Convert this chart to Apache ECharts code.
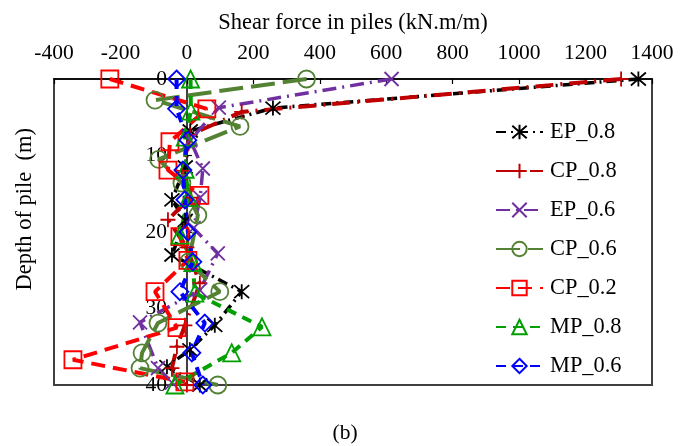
<!DOCTYPE html>
<html>
<head>
<meta charset="utf-8">
<script src="https://cdn.jsdelivr.net/npm/echarts@6/dist/echarts.min.js"></script>
<style>html,body{margin:0;padding:0;background:#fff;}#c{width:690px;height:446px;}</style>
</head>
<body>
<div id="c"></div>
<script>
// ---- data ----
const xTicks = [-400, -200, 0, 200, 400, 600, 800, 1000, 1200, 1400];
const yTicks = [0, 10, 20, 30, 40];
const seriesNames = ['EP_0.8', 'CP_0.8', 'EP_0.6', 'CP_0.6', 'CP_0.2', 'MP_0.8', 'MP_0.6'];

const ep08Depth = [0, 3.8, 6.8, 11.5, 15.8, 18.5, 23, 27.8, 32.2, 35.4, 37.6, 40];
const ep08Shear = [1359, 259, 10, -5, -45, -5, -45, 165, 84, 9, -60, 39];

const cp08Depth = [0, 4.3, 7.3, 12, 15.5, 18.4, 22, 26.7, 32.2, 35, 37.8, 40];
const cp08Shear = [1307, 165, 10, -15, 10, -57, 0, 39, -6, -30, -45, 0];

const ep06Depth = [0, 3.75, 8, 11.7, 15.5, 19.5, 22.8, 27.6, 31.8, 37.8, 39.7];
const ep06Shear = [616, 96, 10, 48, 40, 20, 93, 39, -141, -87, -45];

const cp06Depth = [0, 2.75, 6.2, 10.5, 13.6, 17.8, 23.9, 27.8, 31.9, 35.8, 37.8, 40];
const cp06Shear = [360, -96, 160, -85, -15, 33, 5, 99, -87, -135, -141, 93];

const cp02Depth = [0, 3.9, 8.2, 11.9, 15.2, 20.6, 23.7, 27.8, 32.5, 36.7, 39.6];
const cp02Shear = [-232, 60, -51, -57, 39, -21, 3, -96, -30, -343, -6];

const mp08Depth = [0, 4.2, 7.6, 11.8, 15.5, 20.4, 24, 28, 32.4, 35.8, 40];
const mp08Shear = [11, 12, -5, -5, 5, -21, 18, 24, 226, 135, -36];

const mp06Depth = [0, 3.9, 8, 11.9, 15.8, 20, 23.9, 27.8, 31.9, 35.8, 40];
const mp06Shear = [-31, -31, 3, -12, -6, 3, 18, -21, 54, 15, 48];

// ---- styles ----
const FONT = 'Liberation Serif';
const asterisk = 'path://M5,0L5,10M0.67,0.67L9.33,9.33M0.67,9.33L9.33,0.67';
const plus = 'path://M5,0L5,10M0,5L10,5';
const cross = 'path://M0,0L10,10M0,10L10,0';

const GRID_LEFT = 54, GRID_W = 598;
const xMin = xTicks[0], xMax = xTicks[xTicks.length - 1];
// y axis drawn at x = 0 (shift the left axis inward)
const yAxisOffset = -GRID_W * (0 - xMin) / (xMax - xMin);

function pairs(d, v) { return d.map((dep, i) => [v[i], dep]); }

const defs = [
  {name: seriesNames[0], data: pairs(ep08Depth, ep08Shear), color: '#000000', symbol: asterisk, size: 15, dash: [10, 5, 2, 5], w: 3.5},
  {name: seriesNames[1], data: pairs(cp08Depth, cp08Shear), color: '#C00000', symbol: plus, size: 15, dash: [18, 7, 2, 7], w: 4},
  {name: seriesNames[2], data: pairs(ep06Depth, ep06Shear), color: '#7030A0', symbol: cross, size: 14, dash: [14, 6, 2, 6], w: 3.5},
  {name: seriesNames[3], data: pairs(cp06Depth, cp06Shear), color: '#548235', symbol: 'circle', size: 17, dash: [24, 8], w: 4},
  {name: seriesNames[4], data: pairs(cp02Depth, cp02Shear), color: '#FF0000', symbol: 'rect', size: 17, dash: [14, 8], w: 4},
  {name: seriesNames[5], data: pairs(mp08Depth, mp08Shear), color: '#00A000', symbol: 'triangle', size: 17, dash: [10, 7], w: 4},
  {name: seriesNames[6], data: pairs(mp06Depth, mp06Shear), color: '#0000FF', symbol: 'diamond', size: 17, dash: [10, 7], w: 4}
];

const series = defs.map(s => ({
  name: s.name,
  type: 'line',
  data: s.data,
  symbol: s.symbol,
  symbolSize: s.size,
  showSymbol: true,
  smooth: false,
  clip: false,
  lineStyle: {color: s.color, width: s.w, type: s.dash},
  itemStyle: {color: 'rgba(255,255,255,0)', borderColor: s.color, borderWidth: 1.8}
}));

const chart = echarts.init(document.getElementById('c'), null, {renderer: 'canvas'});
chart.setOption({
  animation: false,
  backgroundColor: '#ffffff',
  grid: {left: GRID_LEFT, top: 79, width: GRID_W, height: 306, show: true, borderColor: '#404040', borderWidth: 2, backgroundColor: 'transparent'},
  xAxis: {
    type: 'value', position: 'top', min: xMin, max: xMax, interval: 200,
    name: 'Shear force in piles (kN.m/m)', nameLocation: 'middle', nameGap: 44,
    nameTextStyle: {fontFamily: FONT, fontSize: 22.5, color: '#000'},
    axisLine: {onZero: false, lineStyle: {color: '#000', width: 1.5}},
    axisTick: {inside: true, length: 5, lineStyle: {color: '#000', width: 1.2}},
    axisLabel: {fontFamily: FONT, fontSize: 21.5, color: '#000', margin: 15, formatter: v => String(v)},
    splitLine: {show: false}
  },
  yAxis: {
    type: 'value', inverse: true, position: 'left', offset: yAxisOffset,
    min: yTicks[0], max: yTicks[yTicks.length - 1], interval: 10,
    axisLine: {onZero: false, lineStyle: {color: '#000', width: 1.5}},
    axisTick: {inside: true, length: 5, lineStyle: {color: '#000', width: 1.2}},
    axisLabel: {fontFamily: FONT, fontSize: 21.5, color: '#000', margin: 20},
    splitLine: {show: false}
  },
  legend: {
    orient: 'vertical', left: 490, top: 116, itemWidth: 47, itemHeight: 18, itemGap: 17,
    data: seriesNames,
    textStyle: {fontFamily: FONT, fontSize: 22.4, color: '#000', lineHeight: 22, padding: [0, 0, 0, 2]}
  },
  graphic: [
    {type: 'text', left: 14, top: 128, rotation: Math.PI / 2, style: {text: 'Depth of pile  (m)', fontFamily: FONT, fontSize: 22.5, fill: '#000'}},
    {type: 'text', left: 'center', top: 422, style: {text: '(b)', fontFamily: FONT, fontSize: 21.5, fill: '#000'}}
  ],
  series: series
});
</script>
</body>
</html>
